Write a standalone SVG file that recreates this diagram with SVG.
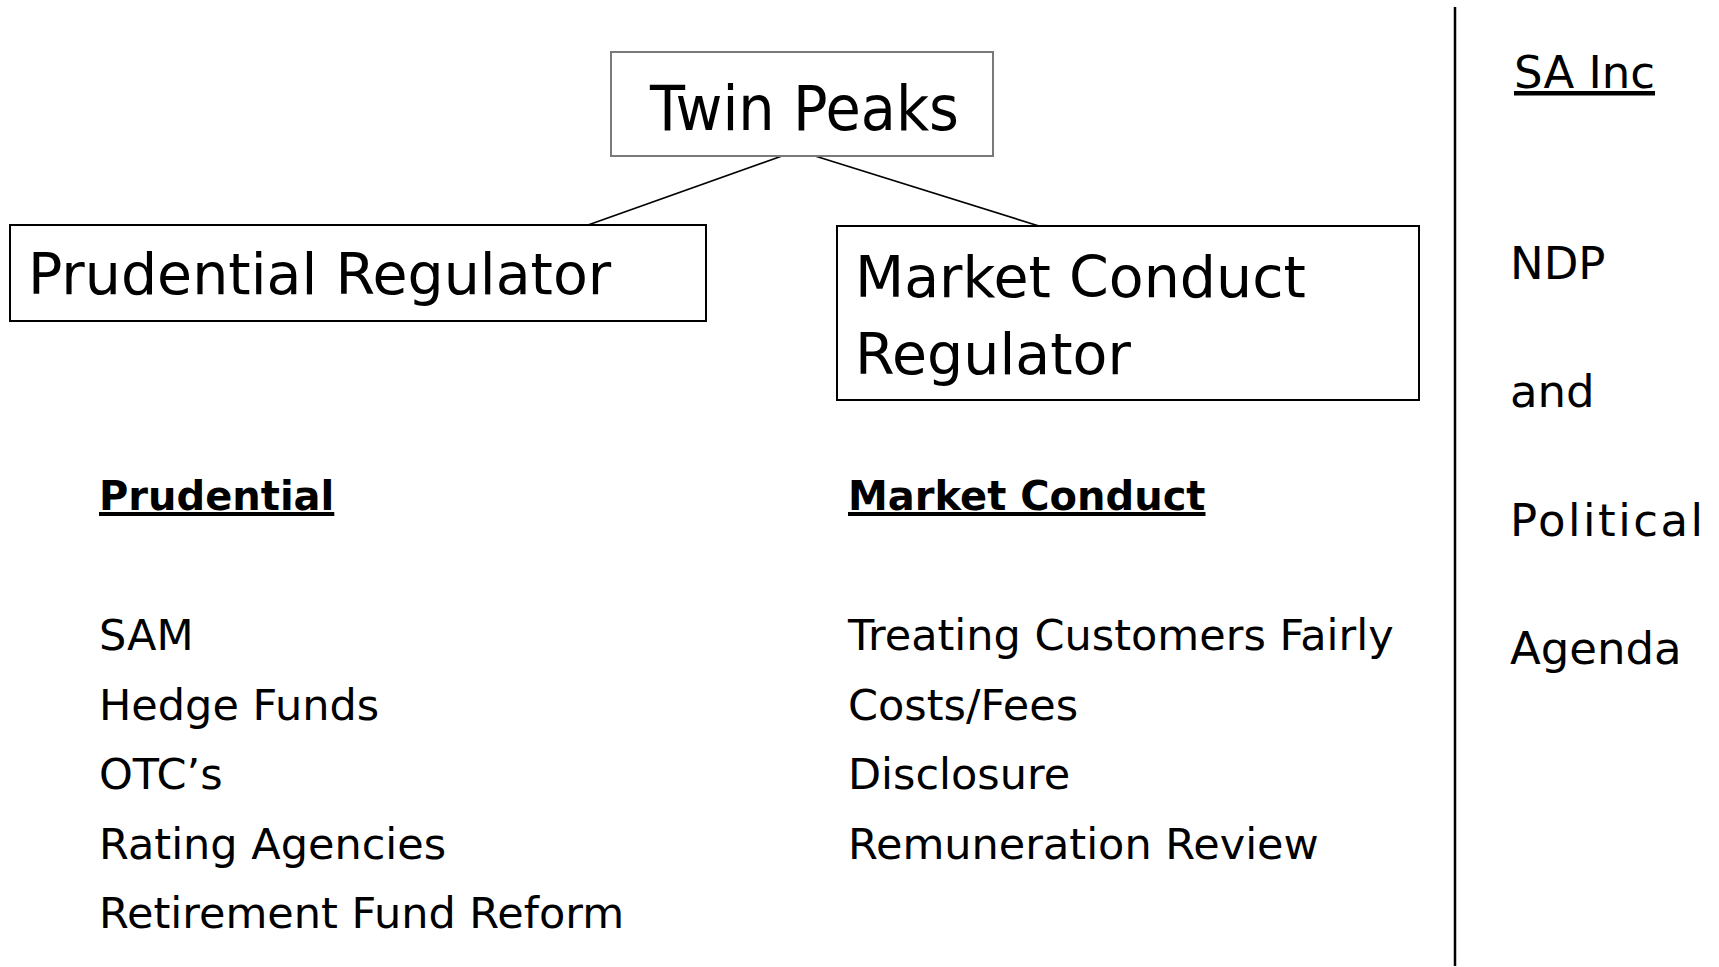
<svg xmlns="http://www.w3.org/2000/svg" width="1719" height="967" viewBox="0 0 1719 967">
<style>
.box{fill:#fff;stroke:#000;stroke-width:2}
.gbox{fill:#fff;stroke:#7a7a7a;stroke-width:2}
.t{font-family:"DejaVu Sans","Liberation Sans",sans-serif;fill:#000}
.big{font-size:57px}
.head{font-size:40px;font-weight:bold;text-decoration:underline}
.item{font-size:43px}
.side{font-size:45px}
.conn{stroke:#000;stroke-width:1.6;fill:none}
</style>
<rect width="1719" height="967" fill="#fff"/>
<g id="connectors">
<line class="conn" x1="782" y1="156" x2="588" y2="225"/>
<line class="conn" x1="815" y1="156" x2="1039" y2="226"/>
<line x1="1455" y1="7" x2="1455" y2="966" stroke="#000" stroke-width="2.5"/>
</g>
<g id="twin-peaks">
<rect class="gbox" x="611" y="52" width="382" height="104"/>
<text class="t" x="650" y="130" font-family="Lato,'DejaVu Sans',sans-serif" font-size="63" textLength="309" lengthAdjust="spacingAndGlyphs">Twin Peaks</text>
</g>
<g id="prudential-regulator">
<rect class="box" x="10" y="225" width="696" height="96"/>
<text class="t big" x="28" y="294">Prudential Regulator</text>
</g>
<g id="market-conduct-regulator">
<rect class="box" x="837" y="226" width="582" height="174"/>
<text class="t big" x="855" y="297">Market Conduct</text>
<text class="t big" x="855" y="374">Regulator</text>
</g>
<g id="prudential-list">
<text class="t head" x="99" y="510">Prudential</text>
<text class="t item" x="99" y="650">SAM</text>
<text class="t item" x="99" y="720">Hedge Funds</text>
<text class="t item" x="99" y="789">OTC’s</text>
<text class="t item" x="99" y="859">Rating Agencies</text>
<text class="t item" x="99" y="928">Retirement Fund Reform</text>
</g>
<g id="market-conduct-list">
<text class="t head" x="848" y="510">Market Conduct</text>
<text class="t item" x="848" y="650">Treating Customers Fairly</text>
<text class="t item" x="848" y="720">Costs/Fees</text>
<text class="t item" x="848" y="789">Disclosure</text>
<text class="t item" x="848" y="859">Remuneration Review</text>
</g>
<g id="sa-inc">
<text class="t side" x="1514" y="88" text-decoration="underline">SA Inc</text>
<text class="t side" x="1510" y="279">NDP</text>
<text class="t side" x="1510" y="407">and</text>
<text class="t side" x="1510" y="536" textLength="193" lengthAdjust="spacing">Political</text>
<text class="t side" x="1510" y="664">Agenda</text>
</g>
</svg>
